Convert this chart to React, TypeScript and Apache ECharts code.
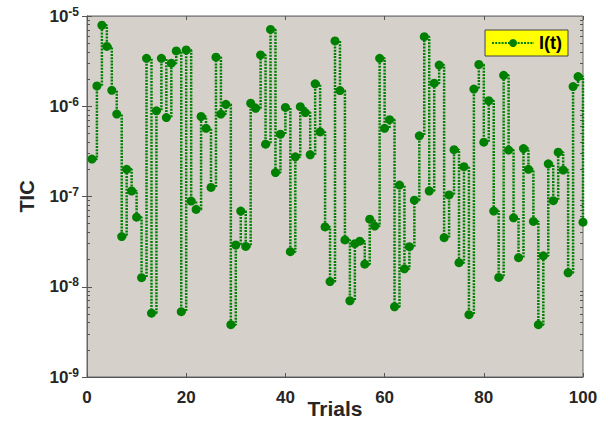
import React, { useEffect, useRef } from "react";
import * as echarts from "echarts";

const trials: number[] = Array.from({ length: 100 }, (_, i) => i + 1);
const ticValues: number[] = [
  2.6e-7, 1.68e-6, 7.9e-6, 4.6e-6, 1.5e-6, 8.2e-7, 3.6e-8, 2.0e-7, 1.15e-7, 5.9e-8,
  1.26e-8, 3.4e-6, 5.1e-9, 8.9e-7, 3.4e-6, 7.5e-7, 3.0e-6, 4.1e-6, 5.3e-9, 4.2e-6,
  8.9e-8, 7.2e-8, 7.7e-7, 5.7e-7, 1.26e-7, 3.5e-6, 8.2e-7, 1.05e-6, 3.8e-9, 2.9e-8,
  6.9e-8, 2.8e-8, 1.08e-6, 9.5e-7, 3.7e-6, 3.8e-7, 7.1e-6, 1.84e-7, 4.9e-7, 9.7e-7,
  2.45e-8, 2.75e-7, 9.9e-7, 8.5e-7, 2.9e-7, 1.77e-6, 5.2e-7, 4.6e-8, 1.14e-8, 5.3e-6,
  1.49e-6, 3.3e-8, 7.0e-9, 3.0e-8, 3.2e-8, 1.78e-8, 5.6e-8, 4.7e-8, 3.4e-6, 5.7e-7,
  7.1e-7, 6.0e-9, 1.34e-7, 1.58e-8, 2.78e-8, 9.1e-8, 4.7e-7, 5.9e-6, 1.15e-7, 1.8e-6,
  2.86e-6, 3.5e-8, 1.04e-7, 3.3e-7, 1.85e-8, 2.14e-7, 4.9e-9, 1.55e-6, 2.9e-6, 4.0e-7,
  1.15e-6, 6.9e-8, 1.27e-8, 2.2e-6, 3.27e-7, 5.8e-8, 2.1e-8, 3.4e-7, 2.0e-7, 5.3e-8,
  3.8e-9, 2.2e-8, 2.3e-7, 9.0e-8, 3.1e-7, 1.96e-7, 1.43e-8, 1.65e-6, 2.13e-6, 5.2e-8,
];
const seriesName = "I(t)";
const xTickLabels: number[] = [0, 20, 40, 60, 80, 100];
const yExponents: number[] = [-9, -8, -7, -6, -5];

const FONT = "Arial, 'Liberation Sans', sans-serif";

export default function App() {
  const ref = useRef<HTMLDivElement>(null);
  useEffect(() => {
    if (!ref.current) return;
    const chart = echarts.init(ref.current, null, { renderer: "svg" });
    const minorVals: number[] = [];
    for (let e = -9; e < -5; e++) {
      for (let k = 2; k <= 9; k++) minorVals.push(k * Math.pow(10, e));
    }
    const majorVals = yExponents.map((e) => Math.pow(10, e));
    const baseY = {
      type: "log" as const,
      logBase: 10,
      min: 1e-9,
      max: 1e-5,
    };
    chart.setOption({
      animation: false,
      grid: {
        left: 87,
        top: 16,
        right: 26,
        bottom: 44,
        containLabel: false,
        outerBoundsMode: "none",
        show: true,
        backgroundColor: "#d5d1ca",
        borderColor: "#666",
        borderWidth: 1,
      },
      legend: {
        data: [seriesName],
        right: 41,
        top: 30,
        backgroundColor: "#ffff00",
        borderColor: "#444",
        borderWidth: 1,
        padding: [4, 6, 4, 6],
        itemWidth: 42,
        itemHeight: 10,
        itemGap: 4,
        textStyle: { fontFamily: FONT, fontWeight: "bold", fontSize: 18, color: "#000" },
      },
      xAxis: [
        {
          type: "value",
          min: 0,
          max: 100,
          interval: 20,
          name: "Trials",
          nameLocation: "middle",
          nameGap: 21,
          nameMoveOverlap: false,
          nameTextStyle: {
            fontFamily: FONT,
            fontWeight: "bold",
            fontSize: 21,
            lineHeight: 21,
            color: "#262626",
          },
          axisLine: { show: true, onZero: false, lineStyle: { color: "#555", width: 1 } },
          axisTick: { show: true, inside: true, length: 4, lineStyle: { color: "#555" } },
          axisLabel: {
            fontFamily: FONT,
            fontWeight: "bold",
            fontSize: 17,
            color: "#262626",
            margin: 12,
            formatter: (v: number) => (xTickLabels.includes(v) ? String(v) : ""),
          },
          splitLine: { show: false },
        },
        {
          type: "value",
          min: 0,
          max: 100,
          interval: 20,
          position: "top",
          axisLine: { show: true, lineStyle: { color: "#888", width: 1 } },
          axisTick: { show: true, inside: true, length: 4, lineStyle: { color: "#555" } },
          axisLabel: { show: false },
          splitLine: { show: false },
        },
      ],
      yAxis: [
        {
          ...baseY,
          name: "TIC",
          nameLocation: "middle",
          nameGap: 50,
          nameMoveOverlap: false,
          nameTextStyle: { fontFamily: FONT, fontWeight: "bold", fontSize: 20, color: "#262626" },
          axisLine: { show: true, onZero: false, lineStyle: { color: "#555", width: 1 } },
          axisTick: { show: true, inside: true, length: 5, customValues: majorVals, lineStyle: { color: "#555" } },
          axisLabel: {
            customValues: majorVals,
            margin: 8,
            formatter: (v: number) => {
              const e = Math.round(Math.log10(v));
              return "{b|10}{s|" + e + "}";
            },
            rich: {
              b: { fontFamily: FONT, fontWeight: "bold", fontSize: 17, color: "#262626" },
              s: {
                fontFamily: FONT,
                fontWeight: "bold",
                fontSize: 12,
                color: "#262626",
                verticalAlign: "bottom",
                padding: [0, 0, 9, 0],
              },
            },
          },
          splitLine: { show: false },
        },
        {
          ...baseY,
          position: "left",
          axisLine: { show: false },
          axisTick: { show: true, inside: true, length: 3, customValues: minorVals, lineStyle: { color: "#555" } },
          axisLabel: { show: false },
          splitLine: { show: false },
        },
        {
          ...baseY,
          position: "right",
          axisLine: { show: true, lineStyle: { color: "#666", width: 1 } },
          axisTick: { show: true, inside: true, length: 5, customValues: majorVals, lineStyle: { color: "#555" } },
          axisLabel: { show: false },
          splitLine: { show: false },
        },
        {
          ...baseY,
          position: "right",
          axisLine: { show: false },
          axisTick: { show: true, inside: true, length: 3, customValues: minorVals, lineStyle: { color: "#555" } },
          axisLabel: { show: false },
          splitLine: { show: false },
        },
      ],
      series: [
        {
          name: seriesName,
          type: "line",
          step: "end",
          xAxisIndex: 0,
          yAxisIndex: 0,
          data: trials.map((t, i) => [t, ticValues[i]]),
          symbol: "circle",
          symbolSize: 9,
          itemStyle: { color: "#008000" },
          lineStyle: { color: "#008000", width: 2.5, type: [2, 1.2] },
        },
      ],
    });
    return () => chart.dispose();
  }, []);
  return (
    <div
      ref={ref}
      style={{ position: "absolute", left: 0, top: 0, width: 609, height: 421, overflow: "visible" }}
    />
  );
}
